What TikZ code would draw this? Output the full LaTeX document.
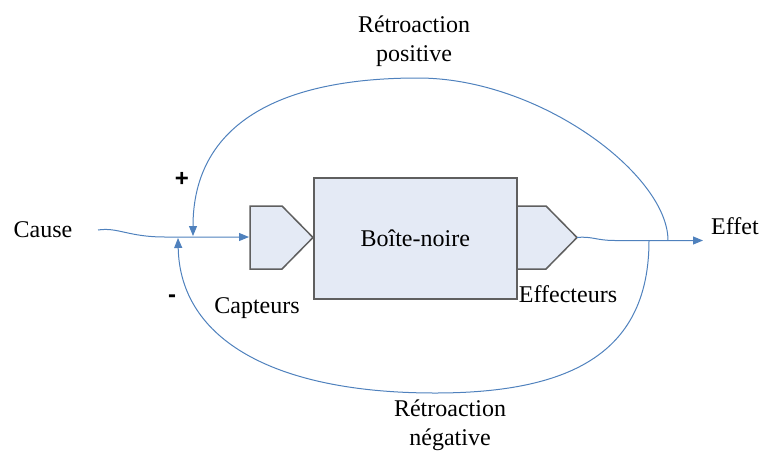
\documentclass[tikz,border=0pt]{standalone}
\usepackage{fontspec}
\setmainfont{Liberation Serif}
\newfontfamily\signfont{Liberation Sans}
\usetikzlibrary{arrows.meta}
\definecolor{lineblue}{RGB}{79,129,189}
\definecolor{boxfill}{RGB}{228,234,245}
\definecolor{boxedge}{RGB}{95,95,95}
\begin{document}
\begin{tikzpicture}[x=1pt,y=-1pt,
  lbl/.style={font=\fontsize{24}{29}\selectfont, inner sep=0pt},
  sign/.style={font=\fontsize{24}{29}\signfont\bfseries, inner sep=0pt},
  flow/.style={draw=lineblue, line width=1pt},
  tip/.style={-{Triangle[length=10pt,width=8pt]}},
  part/.style={draw=boxedge, fill=boxfill, line width=1.5pt, line join=miter}]
\useasboundingbox (0,0) rectangle (762,450);

% sensor and effector shapes
\draw[part] (250,206) -- (282,206) -- (313,237.5) -- (282,269) -- (250,269) -- cycle;
\draw[part] (516,206) -- (546,206) -- (577,237.5) -- (546,269) -- (516,269) -- cycle;
\node[part, minimum width=203pt, minimum height=121pt, inner sep=0pt, anchor=north west,
      font=\fontsize{24}{29}\selectfont] (box) at (313,177) {Boîte-noire};

% coordinates
\coordinate (captIn) at (249,237);
\coordinate (effOut) at (577,237.5);
\coordinate (inStart) at (98,230);
\coordinate (outEnd) at (703,240.5);
\coordinate (plusJ) at (193,236);
\coordinate (minusJ) at (178,238);
\coordinate (posStart) at (668,240.5);
\coordinate (negStart) at (649,240.5);

% labels
\node[lbl, anchor=base] (cause) at (43,237) {Cause};
\node[lbl, anchor=base] (effet) at (735,234) {Effet};
\node[lbl, anchor=base] (capteurs) at (257,313) {Capteurs};
\node[lbl, anchor=base] (effecteurs) at (568,302) {Effecteurs};
\node[lbl, anchor=base] (posA) at (414,32) {Rétroaction};
\node[lbl, anchor=base] (posB) at (414,61) {positive};
\node[lbl, anchor=base] (negA) at (450,416) {Rétroaction};
\node[lbl, anchor=base] (negB) at (450,445) {négative};
\node[sign, anchor=base] (plus) at (182,186) {+};
\node[sign, anchor=base] (minus) at (172,302) {-};

% connectors
\draw[flow, tip] (inStart) .. controls (118,227) and (128,237) .. (165,237) -- (captIn);
\draw[flow, tip] (effOut) .. controls (592,236) and (596,240.5) .. (615,240.5) -- (outEnd);
\draw[flow, tip] (posStart) .. controls (668,175) and (540,78) .. (418,78)
                 .. controls (270,78) and (193,130) .. (plusJ);
\draw[flow, tip] (negStart) .. controls (649,350) and (575,393) .. (435,393)
                 .. controls (275,393) and (180,340) .. (minusJ);
\end{tikzpicture}
\end{document}
